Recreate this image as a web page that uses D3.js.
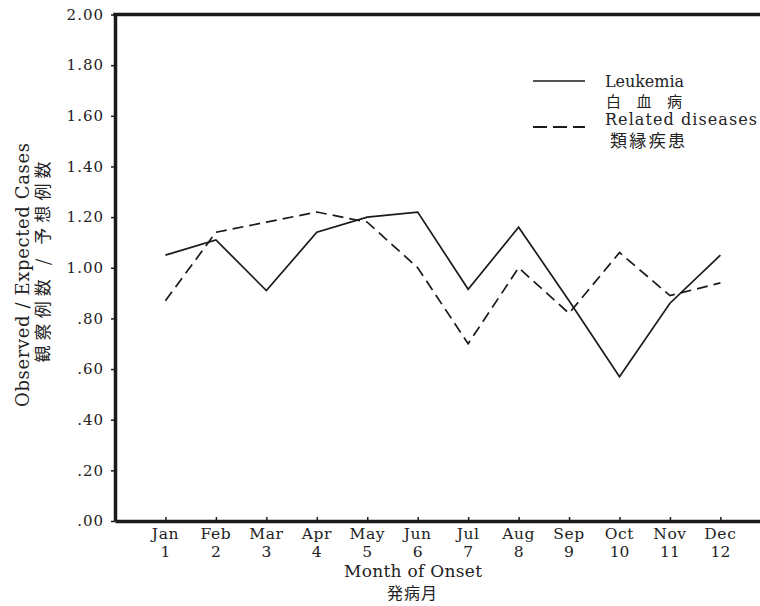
<!DOCTYPE html>
<html>
<head>
<meta charset="utf-8">
<script src="https://cdn.jsdelivr.net/npm/d3@7"></script>
<style>
  body { margin: 0; background: #fff; }
  svg { display: block; }
</style>
</head>
<body>
<script>
const monthNames = ["Jan", "Feb", "Mar", "Apr", "May", "Jun", "Jul", "Aug", "Sep", "Oct", "Nov", "Dec"];
const monthNumbers = [1, 2, 3, 4, 5, 6, 7, 8, 9, 10, 11, 12];
const leukemia = [1.05, 1.11, 0.91, 1.14, 1.20, 1.22, 0.915, 1.16, 0.87, 0.57, 0.86, 1.05];
const related = [0.87, 1.14, 1.18, 1.22, 1.18, 1.00, 0.70, 1.00, 0.82, 1.06, 0.89, 0.94];
const yTicks = [0, 0.2, 0.4, 0.6, 0.8, 1.0, 1.2, 1.4, 1.6, 1.8, 2.0];

const width = 760;
const height = 606;
const ink = "#1a1a1a";
const SERIF = "'DejaVu Serif', 'Liberation Serif', serif";
const CJK = "'Noto Sans CJK JP', sans-serif";

const x = d3.scaleLinear().domain([0, 13]).range([115, 115 + 13 * 50.45]);
const y = d3.scaleLinear().domain([0, 2]).range([521, 14.5]);

const svg = d3.select("body").append("svg")
  .attr("width", width)
  .attr("height", height);

const serifText = sel => sel.style("font-family", SERIF).attr("fill", "#222");
const cjkText = sel => sel.style("font-family", CJK).attr("fill", "#222");

// y axis
const fmt = d => {
  const s = d3.format(".2f")(d);
  return s.startsWith("0") ? s.slice(1) : s;
};
const yAxis = svg.append("g")
  .attr("transform", `translate(${x(0)},0)`)
  .call(d3.axisLeft(y).tickValues(yTicks).tickSize(4).tickSizeOuter(0).tickPadding(7).tickFormat(fmt));
yAxis.select(".domain").attr("stroke", ink).attr("stroke-width", 3.5);
yAxis.selectAll(".tick line").attr("stroke", ink).attr("stroke-width", 1.5);
yAxis.selectAll(".tick text")
  .call(serifText)
  .style("font-size", "15px")
  .style("letter-spacing", "1px");

// x axis, ticks pointing up into the plot
const xAxis = svg.append("g")
  .attr("transform", `translate(0,${y(0)})`)
  .call(d3.axisBottom(x).tickValues(monthNumbers).tickSize(-4).tickSizeOuter(0).tickFormat(""));
xAxis.select(".domain").attr("stroke", ink).attr("stroke-width", 3.5);
xAxis.selectAll(".tick line").attr("stroke", ink).attr("stroke-width", 1.5);

// top border
svg.append("line")
  .attr("x1", x(0) - 1.7).attr("x2", width)
  .attr("y1", y(2)).attr("y2", y(2))
  .attr("stroke", ink).attr("stroke-width", 3.5);

// month labels
const labels = svg.append("g").attr("text-anchor", "middle");
labels.selectAll("text.name")
  .data(monthNames)
  .join("text")
  .attr("class", "name")
  .call(serifText)
  .attr("x", (d, i) => x(monthNumbers[i]))
  .attr("y", 539)
  .style("font-size", "15.5px")
  .style("letter-spacing", "0.6px")
  .text(d => d);
labels.selectAll("text.num")
  .data(monthNumbers)
  .join("text")
  .attr("class", "num")
  .call(serifText)
  .attr("x", d => x(d))
  .attr("y", 557)
  .style("font-size", "15.5px")
  .text(d => d);

// axis titles
svg.append("text")
  .call(serifText)
  .attr("text-anchor", "middle")
  .attr("x", 413).attr("y", 577)
  .attr("textLength", 138).attr("lengthAdjust", "spacing")
  .style("font-size", "17px")
  .text("Month of Onset");
svg.append("text")
  .call(cjkText)
  .attr("text-anchor", "middle")
  .attr("x", 412).attr("y", 599)
  .attr("textLength", 50).attr("lengthAdjust", "spacing")
  .style("font-size", "16px")
  .text("発病月");

svg.append("text")
  .call(serifText)
  .attr("text-anchor", "middle")
  .attr("transform", "translate(29,275) rotate(-90)")
  .attr("textLength", 264).attr("lengthAdjust", "spacing")
  .style("font-size", "18px")
  .text("Observed / Expected Cases");
svg.append("text")
  .call(cjkText)
  .attr("text-anchor", "middle")
  .attr("transform", "translate(49,262) rotate(-90)")
  .attr("textLength", 201).attr("lengthAdjust", "spacing")
  .style("font-size", "17px")
  .text("観察例数 / 予想例数");

// series
const line = d3.line()
  .x((d, i) => x(monthNumbers[i]))
  .y(d => y(d));

svg.append("path")
  .datum(related)
  .attr("fill", "none")
  .attr("stroke", ink)
  .attr("stroke-width", 1.7)
  .attr("stroke-dasharray", "11,6")
  .attr("d", line);

svg.append("path")
  .datum(leukemia)
  .attr("fill", "none")
  .attr("stroke", ink)
  .attr("stroke-width", 1.7)
  .attr("d", line);

// legend
const legend = svg.append("g");
legend.append("line")
  .attr("x1", 533).attr("x2", 585).attr("y1", 81).attr("y2", 81)
  .attr("stroke", ink).attr("stroke-width", 1.7);
legend.append("line")
  .attr("x1", 533).attr("x2", 585).attr("y1", 127).attr("y2", 127)
  .attr("stroke", ink).attr("stroke-width", 1.9)
  .attr("stroke-dasharray", "14,6");
legend.append("text")
  .call(serifText)
  .attr("x", 605).attr("y", 87)
  .attr("textLength", 79).attr("lengthAdjust", "spacing")
  .style("font-size", "16px")
  .text("Leukemia");
legend.append("text")
  .call(cjkText)
  .attr("x", 606).attr("y", 107)
  .attr("textLength", 76).attr("lengthAdjust", "spacing")
  .style("font-size", "15px")
  .text("白血病");
legend.append("text")
  .call(serifText)
  .attr("x", 605).attr("y", 125)
  .attr("textLength", 152).attr("lengthAdjust", "spacing")
  .style("font-size", "16px")
  .text("Related diseases");
legend.append("text")
  .call(cjkText)
  .attr("x", 610).attr("y", 147)
  .attr("textLength", 75).attr("lengthAdjust", "spacing")
  .style("font-size", "17px")
  .text("類縁疾患");
</script>
</body>
</html>
